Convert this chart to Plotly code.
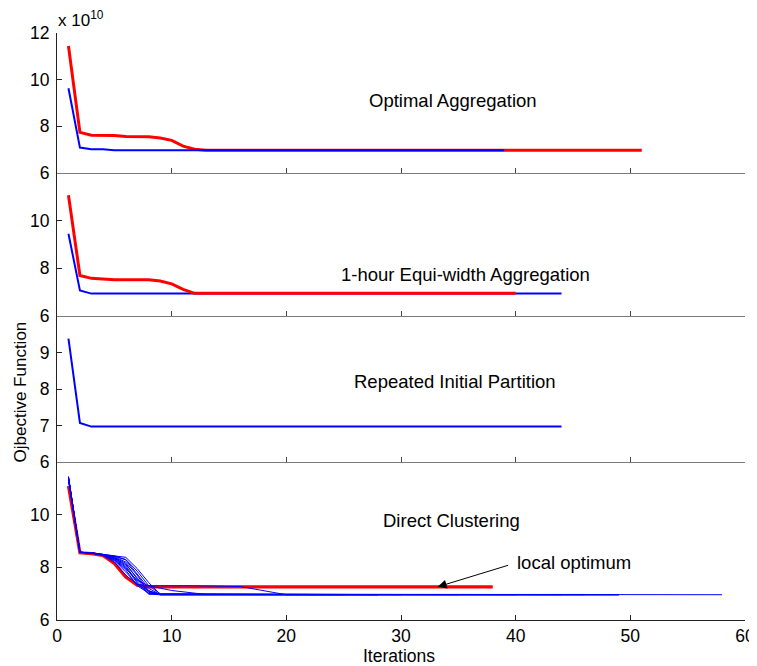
import plotly.graph_objects as go

# ---------------- data (values in units of 1e10) ----------------
# Panel 1: Optimal Aggregation
p1_red_x = [1, 2, 3, 4, 5, 6, 7, 8, 9, 10, 11, 12, 13, 51]
p1_red_y = [11.44, 7.74, 7.62, 7.62, 7.61, 7.56, 7.55, 7.55, 7.50, 7.40, 7.15, 7.02, 6.98, 6.97]
p1_blue_x = [1, 2, 3, 4, 5, 39]
p1_blue_y = [9.63, 7.09, 7.02, 7.02, 6.98, 6.97]

# Panel 2: 1-hour Equi-width Aggregation
p2_red_x = [1, 2, 3, 4, 5, 6, 7, 8, 9, 10, 11, 12, 40]
p2_red_y = [11.07, 7.70, 7.58, 7.54, 7.52, 7.52, 7.52, 7.52, 7.47, 7.35, 7.12, 6.95, 6.95]
p2_blue_x = [1, 2, 3, 44]
p2_blue_y = [9.45, 7.07, 6.94, 6.94]

# Panel 3: Repeated Initial Partition
p3_blue_x = [1, 2, 3, 44]
p3_blue_y = [9.38, 7.07, 6.97, 6.97]

# Panel 4: Direct Clustering
p4_red_x = [1, 2, 3, 4, 5, 6, 7, 8, 38]
p4_red_y = [11.09, 8.55, 8.52, 8.45, 8.15, 7.63, 7.32, 7.26, 7.26]

p4_blue_runs = [
    ([1, 2, 3, 4, 5, 6, 7, 8, 9, 58], [11.45, 8.57, 8.55, 8.50, 8.45, 8.38, 7.95, 7.42, 6.98, 6.96]),
    ([1, 2, 3, 4, 5, 6, 7, 8, 9, 49], [11.42, 8.57, 8.55, 8.49, 8.42, 8.28, 7.75, 7.20, 6.97, 6.96]),
    ([1, 2, 3, 4, 5, 6, 7, 8, 9, 49], [11.40, 8.57, 8.55, 8.48, 8.38, 8.15, 7.55, 7.05, 6.96, 6.95]),
    ([1, 2, 3, 4, 5, 6, 7, 8, 9, 46], [11.38, 8.57, 8.54, 8.47, 8.33, 8.00, 7.40, 6.98, 6.96, 6.96]),
    ([1, 2, 3, 4, 5, 6, 7, 8, 9, 46], [11.35, 8.57, 8.54, 8.46, 8.28, 7.90, 7.30, 7.02, 6.97, 6.97]),
    ([1, 2, 3, 4, 5, 6, 7, 8, 9, 44], [11.33, 8.57, 8.54, 8.46, 8.25, 7.82, 7.35, 7.10, 6.98, 6.96]),
    ([1, 2, 3, 4, 5, 6, 7, 8, 9, 12, 16, 20, 40], [11.30, 8.57, 8.54, 8.45, 8.20, 7.70, 7.35, 7.30, 7.30, 7.30, 7.27, 6.96, 6.96]),
    ([1, 2, 3, 4, 5, 6, 7, 8, 10, 13, 35], [11.36, 8.57, 8.55, 8.47, 8.30, 7.95, 7.50, 7.30, 7.12, 6.97, 6.96]),
    ([1, 2, 3, 4, 5, 6, 7, 8, 9, 30], [11.44, 8.57, 8.55, 8.50, 8.43, 8.30, 7.85, 7.30, 7.00, 6.96]),
    ([1, 2, 3, 4, 5, 6, 7, 8, 9, 28], [11.41, 8.57, 8.55, 8.49, 8.36, 8.10, 7.60, 7.12, 6.96, 6.95]),
    ([1, 2, 3, 4, 5, 6, 7, 8, 9, 25], [11.39, 8.57, 8.55, 8.48, 8.40, 8.20, 7.70, 7.08, 6.96, 6.96]),
    ([1, 2, 3, 4, 5, 6, 7, 8, 9, 22], [11.37, 8.57, 8.55, 8.47, 8.35, 8.05, 7.45, 7.00, 6.97, 6.97]),
]

panel_titles = ["Optimal Aggregation", "1-hour Equi-width Aggregation",
                "Repeated Initial Partition", "Direct Clustering"]
x_ticks = [0, 10, 20, 30, 40, 50, 60]
y_ticks = [[6, 8, 10, 12], [6, 8, 10], [6, 7, 8, 9], [6, 8, 10]]
y_ranges = [[6, 12], [6, 12], [6, 10], [6, 12]]

# ---------------- figure ----------------
RED = "#ff0000"
BLUE = "#0000ff"
FONT = "Liberation Sans, Arial, Helvetica, sans-serif"
TICK_SIZE = 17.5
TEXT_SIZE = 18.5

fig = go.Figure()

def add(x, y, color, width, k):
    suffix = "" if k == 1 else str(k)
    fig.add_trace(go.Scatter(x=x, y=y, mode="lines",
                             line=dict(color=color, width=width),
                             xaxis="x" + suffix, yaxis="y" + suffix,
                             showlegend=False, hoverinfo="skip"))

# panel 1: red below blue
add(p1_red_x, p1_red_y, RED, 3, 1)
add(p1_blue_x, p1_blue_y, BLUE, 2, 1)
# panel 2: blue below red
add(p2_blue_x, p2_blue_y, BLUE, 2, 2)
add(p2_red_x, p2_red_y, RED, 3, 2)
# panel 3
add(p3_blue_x, p3_blue_y, BLUE, 2, 3)
# panel 4
add(p4_red_x, p4_red_y, RED, 3.2, 4)
for bx, by in p4_blue_runs:
    add(bx, by, BLUE, 1, 4)

# The page body has an 8px margin, so the figure is drawn 8px in from the
# window's corner; the figure is sized to fit and pixel targets are offset.
OFF = 8
W, H = 757 - OFF, 666 - OFF
L, R, T, B = 57 - OFF, 12, 33 - OFF, 46
plot_w = W - L - R
plot_h = H - T - B
bounds_px = [33, 173, 316, 462, 620]  # window px: top of panel1 ... bottom of panel4

def px_x(px):
    return (px - OFF - L) / plot_w

def px_y(py):
    return (H - B - (py - OFF)) / plot_h

layout = dict(
    width=W, height=H,
    margin=dict(l=L, r=R, t=T, b=B, autoexpand=False),
    paper_bgcolor="white", plot_bgcolor="white",
    font=dict(family=FONT, size=TICK_SIZE, color="#000000"),
    showlegend=False,
)

for i in range(4):
    k = i + 1
    suffix = "" if k == 1 else str(k)
    bottom = (i == 3)
    dom = [max(0, px_y(bounds_px[i + 1])), min(1, px_y(bounds_px[i]))]
    layout["xaxis" + suffix] = dict(
        range=[0, 60], tickvals=x_ticks, ticks="inside", ticklen=5,
        tickcolor="#222222" if bottom else "#444444",
        showline=True, linecolor="#222222" if bottom else "#7a7a7a", linewidth=1,
        showgrid=False, zeroline=False, showticklabels=bottom,
        anchor="y" + suffix, domain=[0, 1], automargin=False,
        tickfont=dict(size=TICK_SIZE, family=FONT),
    )
    layout["yaxis" + suffix] = dict(
        range=y_ranges[i], tickvals=y_ticks[i], ticks="inside", ticklen=5,
        tickcolor="#222222", showline=True, linecolor="#222222", linewidth=1,
        showgrid=False, zeroline=False, anchor="x" + suffix, domain=dom,
        automargin=False,
        tickfont=dict(size=TICK_SIZE, family=FONT), ticklabelstandoff=3,
    )

fig.update_layout(**layout)

title_pos = [(34.5, 9.12), (35.6, 7.73), (34.7, 8.2), (34.4, 9.77)]
for i, (t, (tx, ty)) in enumerate(zip(panel_titles, title_pos)):
    suffix = "" if i == 0 else str(i + 1)
    fig.add_annotation(text=t, x=tx, y=ty, xref="x" + suffix, yref="y" + suffix,
                       showarrow=False, xanchor="center", yanchor="middle",
                       font=dict(size=TEXT_SIZE, family=FONT, color="#000"))

# local optimum arrow
fig.add_annotation(text="", x=33.2, y=7.26, xref="x4", yref="y4",
                   ax=72, ay=-22, showarrow=True, arrowhead=2, arrowsize=1.8,
                   arrowwidth=1, arrowcolor="#000", standoff=0)
fig.add_annotation(text="local optimum", x=39.9, y=8.19, xref="x4", yref="y4",
                   showarrow=False, xanchor="left", yanchor="middle",
                   font=dict(size=TEXT_SIZE, family=FONT, color="#000"))

# exponent label
fig.add_annotation(text="x 10<sup>10</sup>", x=px_x(56), y=px_y(19),
                   xref="paper", yref="paper",
                   showarrow=False, xanchor="left", yanchor="middle",
                   font=dict(size=17, family=FONT, color="#000"))
# axis labels
fig.add_annotation(text="Ojbective Function", x=px_x(9), y=px_y(392),
                   xref="paper", yref="paper", textangle=-90, showarrow=False,
                   xanchor="left", yanchor="middle",
                   font=dict(size=17, family=FONT, color="#000"))
fig.add_annotation(text="Iterations", x=px_x(399), y=px_y(656),
                   xref="paper", yref="paper", showarrow=False,
                   xanchor="center", yanchor="middle",
                   font=dict(size=TICK_SIZE, family=FONT, color="#000"))

fig.write_html("out.html")
